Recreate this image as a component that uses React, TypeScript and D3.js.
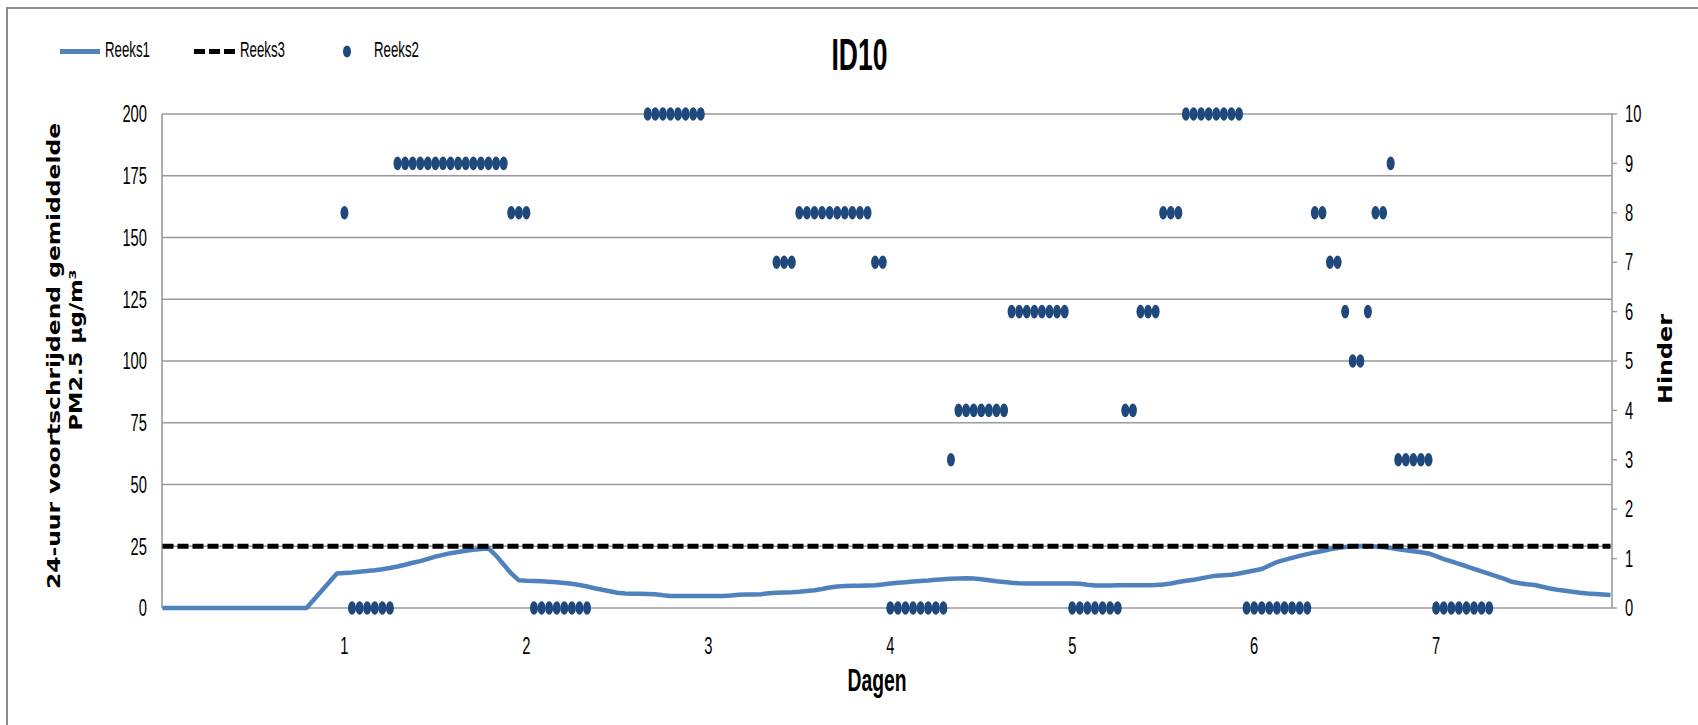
import React from "react";
import * as d3 from "d3";

// ---- data ----
const title = "ID10";
const legendNames = ["Reeks1", "Reeks3", "Reeks2"];
const leftTicks = [0, 25, 50, 75, 100, 125, 150, 175, 200];
const rightTicks = [0, 1, 2, 3, 4, 5, 6, 7, 8, 9, 10];
const dayLabels = ["1", "2", "3", "4", "5", "6", "7"];
const dayLabelHours = [24, 48, 72, 96, 120, 144, 168];

// Reeks1: 24-uur voortschrijdend gemiddelde PM2.5 (hourly, hour 0..191)
const pm25: (number | null)[] = [
  0, 0, 0, 0, 0, 0, 0, 0, 0, 0, 0, 0, 0, 0, 0, 0, 0, 0, 0, 0, null, null, null, 14.0,
  14.2, 14.4, 14.7, 15.0, 15.3, 15.7, 16.2, 16.8, 17.5, 18.3, 19.0, 19.9, 20.8, 21.5, 22.2, 22.7, 23.2, 23.6, 23.9, 24.1, 21.2, 17.6, 14.0, 11.2,
  11.0, 10.9, 10.8, 10.6, 10.4, 10.1, 9.8, 9.3, 8.7, 8.0, 7.4, 6.8, 6.2, 5.9, 5.8, 5.8, 5.7, 5.6, 5.2, 4.9, 4.9, 4.9, 4.9, 4.9,
  4.9, 4.9, 4.9, 5.1, 5.4, 5.5, 5.5, 5.6, 6.0, 6.2, 6.3, 6.4, 6.6, 6.9, 7.2, 7.7, 8.3, 8.7, 8.9, 9.0, 9.0, 9.1, 9.2, 9.5,
  9.9, 10.2, 10.4, 10.7, 10.9, 11.1, 11.4, 11.6, 11.8, 11.9, 12.0, 11.9, 11.6, 11.2, 10.8, 10.5, 10.2, 10.0, 9.9, 9.9, 9.9, 9.9, 9.9, 9.9,
  9.9, 9.8, 9.4, 9.1, 9.1, 9.1, 9.2, 9.2, 9.2, 9.2, 9.2, 9.3, 9.5, 9.9, 10.5, 11.0, 11.4, 12.0, 12.6, 13.1, 13.3, 13.5, 14.0, 14.6,
  15.2, 15.8, 17.2, 18.6, 19.5, 20.3, 21.1, 21.8, 22.5, 23.1, 23.8, 24.3, 24.7, 25.0, 25.1, 25.0, 24.9, 24.7, 24.3, 23.8, 23.4, 23.0, 22.6, 22.1,
  21.0, 19.8, 18.9, 17.9, 16.9, 15.8, 14.8, 13.8, 12.8, 11.8, 10.6, 10.0, 9.6, 9.3, 8.6, 7.9, 7.4, 7.0, 6.6, 6.2, 5.9, 5.7, 5.5, 5.3,
];

// Reeks2: Hinder (hourly, hour 0..191, null = no observation)
const hinder: (number | null)[] = [
  null, null, null, null, null, null, null, null, null, null, null, null, null, null, null, null, null, null, null, null, null, null, null, null,
  8, 0, 0, 0, 0, 0, 0, 9, 9, 9, 9, 9, 9, 9, 9, 9, 9, 9, 9, 9, 9, 9, 8, 8,
  8, 0, 0, 0, 0, 0, 0, 0, 0, null, null, null, null, null, null, null, 10, 10, 10, 10, 10, 10, 10, 10,
  null, null, null, null, null, null, null, null, null, 7, 7, 7, 8, 8, 8, 8, 8, 8, 8, 8, 8, 8, 7, 7,
  0, 0, 0, 0, 0, 0, 0, 0, 3, 4, 4, 4, 4, 4, 4, 4, 6, 6, 6, 6, 6, 6, 6, 6,
  0, 0, 0, 0, 0, 0, 0, 4, 4, 6, 6, 6, 8, 8, 8, 10, 10, 10, 10, 10, 10, 10, 10, 0,
  0, 0, 0, 0, 0, 0, 0, 0, 8, 8, 7, 7, 6, 5, 5, 6, 8, 8, 9, 3, 3, 3, 3, 3,
  0, 0, 0, 0, 0, 0, 0, 0, null, null, null, null, null, null, null, null, null, null, null, null, null, null, null, null,
];

// Reeks3: grenswaarde
const limitValue = [25];

// ---- layout ----
const W = 1698;
const H = 725;
const plotLeft = 162;
const plotRight = 1612;
const plotTop = 114;
const plotBottom = 608;

const LINE_BLUE = "#4F81BD";
const DOT_BLUE = "#1F497D";
const GRID = "#9a9a9a";
const NUM_FONT = "'Liberation Sans', Arial, sans-serif";
const TITLE_FONT = "'DejaVu Sans', Verdana, sans-serif";

export default function App() {
  const x = d3.scaleLinear().domain([0, pm25.length - 1]).range([plotLeft + 0.5, plotRight - 1.5]);
  const yL = d3.scaleLinear().domain([0, 200]).range([plotBottom, plotTop]);
  const yR = d3.scaleLinear().domain([0, 10]).range([plotBottom, plotTop]);

  const pmPoints = pm25
    .map((v, i) => ({ h: i, v }))
    .filter((p) => p.v !== null) as { h: number; v: number }[];
  const line = d3
    .line<{ h: number; v: number }>()
    .x((d) => x(d.h))
    .y((d) => yL(d.v))
    .curve(d3.curveLinear);

  const dots = hinder
    .map((v, i) => ({ h: i, v }))
    .filter((p) => p.v !== null) as { h: number; v: number }[];

  const digitW = 8.2;
  const numSize = 23;

  return (
    <svg
      width={W}
      height={H}
      style={{ position: "absolute", left: 0, top: 0, background: "#fff" }}
    >
      <rect x={0} y={0} width={W} height={H} fill="#fff" />
      {/* chart border (top & left visible) */}
      <rect x={7} y={8} width={W + 20} height={H + 20} fill="none" stroke="#8c8c8c" strokeWidth={2} />

      {/* gridlines */}
      {leftTicks.map((t) => (
        <line key={"g" + t} x1={plotLeft} x2={plotRight} y1={yL(t)} y2={yL(t)} stroke={GRID} strokeWidth={1.6} />
      ))}
      {/* axes */}
      <line x1={plotLeft} x2={plotLeft} y1={plotTop} y2={plotBottom} stroke={GRID} strokeWidth={1.6} />
      <line x1={plotRight} x2={plotRight} y1={plotTop} y2={plotBottom} stroke={GRID} strokeWidth={1.6} />
      {rightTicks.map((t) => (
        <line key={"rt" + t} x1={plotRight} x2={plotRight + 5} y1={yR(t)} y2={yR(t)} stroke={GRID} strokeWidth={1.4} />
      ))}

      {/* left tick labels */}
      {leftTicks.map((t) => (
        <text
          key={"lt" + t}
          x={147}
          y={yL(t)}
          dy="0.36em"
          textAnchor="end"
          fontFamily={NUM_FONT}
          fontSize={numSize}
          textLength={String(t).length * digitW}
          lengthAdjust="spacingAndGlyphs"
          fill="#000"
        >
          {t}
        </text>
      ))}
      {/* right tick labels */}
      {rightTicks.map((t) => (
        <text
          key={"rl" + t}
          x={1625}
          y={yR(t)}
          dy="0.36em"
          textAnchor="start"
          fontFamily={NUM_FONT}
          fontSize={numSize}
          textLength={String(t).length * digitW}
          lengthAdjust="spacingAndGlyphs"
          fill="#000"
        >
          {t}
        </text>
      ))}
      {/* x tick labels */}
      {dayLabels.map((lab, i) => (
        <text
          key={"xl" + lab}
          x={x(dayLabelHours[i])}
          y={646}
          dy="0.36em"
          textAnchor="middle"
          fontFamily={NUM_FONT}
          fontSize={numSize}
          textLength={lab.length * digitW}
          lengthAdjust="spacingAndGlyphs"
          fill="#000"
        >
          {lab}
        </text>
      ))}

      {/* Reeks1 line */}
      <path d={line(pmPoints) || ""} fill="none" stroke={LINE_BLUE} strokeWidth={4.5} strokeLinejoin="round" />
      {/* Reeks3 dashed limit */}
      {limitValue.map((v) => (
        <line
          key={"lim" + v}
          x1={x(0)}
          x2={x(pm25.length - 1)}
          y1={yL(v)}
          y2={yL(v)}
          stroke="#000"
          strokeWidth={5}
          strokeDasharray="11 4"
        />
      ))}
      {/* Reeks2 dots */}
      {dots.map((d) => (
        <ellipse key={"d" + d.h} cx={x(d.h)} cy={yR(d.v)} rx={4} ry={6.8} fill={DOT_BLUE} />
      ))}

      {/* title */}
      <text
        x={859.5}
        y={70}
        textAnchor="middle"
        fontFamily={NUM_FONT}
        fontWeight="bold"
        fontSize={45}
        textLength={56}
        lengthAdjust="spacingAndGlyphs"
      >
        {title}
      </text>

      {/* legend */}
      <line x1={60} x2={100} y1={51.5} y2={51.5} stroke={LINE_BLUE} strokeWidth={5} />
      <text x={105} y={57.3} fontFamily={NUM_FONT} fontSize={21.4} textLength={45} lengthAdjust="spacingAndGlyphs">
        {legendNames[0]}
      </text>
      <line x1={194} x2={235} y1={51.5} y2={51.5} stroke="#000" strokeWidth={5} strokeDasharray="11 4" />
      <text x={240} y={57.3} fontFamily={NUM_FONT} fontSize={21.4} textLength={45} lengthAdjust="spacingAndGlyphs">
        {legendNames[1]}
      </text>
      <ellipse cx={347} cy={51.5} rx={4} ry={6} fill={DOT_BLUE} />
      <text x={374} y={57.3} fontFamily={NUM_FONT} fontSize={21.4} textLength={45} lengthAdjust="spacingAndGlyphs">
        {legendNames[2]}
      </text>

      {/* x axis title */}
      <text
        x={877}
        y={691}
        textAnchor="middle"
        fontFamily={NUM_FONT}
        fontWeight="bold"
        fontSize={31}
        textLength={59}
        lengthAdjust="spacingAndGlyphs"
      >
        Dagen
      </text>

      {/* left axis title */}
      <g transform="translate(54,356) rotate(-90)">
        <text
          x={0}
          y={0}
          textAnchor="middle"
          dominantBaseline="central"
          fontFamily={TITLE_FONT}
          fontWeight="bold"
          fontSize={17}
          textLength={466}
          lengthAdjust="spacingAndGlyphs"
        >
          24-uur voortschrijdend gemiddelde
        </text>
      </g>
      <g transform="translate(76,350) rotate(-90)">
        <text
          x={0}
          y={0}
          textAnchor="middle"
          dominantBaseline="central"
          fontFamily={TITLE_FONT}
          fontWeight="bold"
          fontSize={17}
          textLength={161}
          lengthAdjust="spacingAndGlyphs"
        >
          PM2.5 µg/m³
        </text>
      </g>

      {/* right axis title */}
      <g transform="translate(1665,359) rotate(-90)">
        <text
          x={0}
          y={0}
          textAnchor="middle"
          dominantBaseline="central"
          fontFamily={TITLE_FONT}
          fontWeight="bold"
          fontSize={20}
          textLength={90}
          lengthAdjust="spacingAndGlyphs"
        >
          Hinder
        </text>
      </g>
    </svg>
  );
}
